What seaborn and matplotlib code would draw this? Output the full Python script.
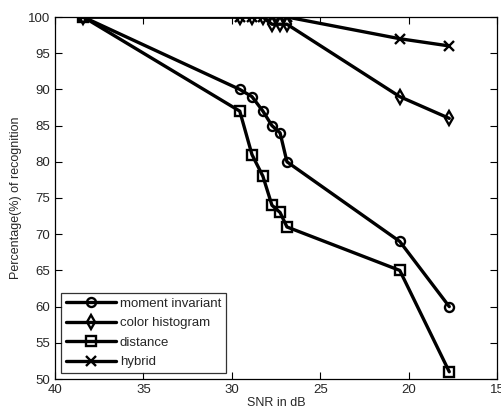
import matplotlib
matplotlib.use("Agg")
import matplotlib.pyplot as plt
import seaborn as sns
import pandas as pd

snr_db = [38.4, 29.55, 28.86, 28.24, 27.73, 27.27, 26.88, 20.5, 17.7]
moment_invariant = [100, 90, 89, 87, 85, 84, 80, 69, 60]
color_histogram = [100, 100, 100, 100, 99, 99, 99, 89, 86]
distance = [100, 87, 81, 78, 74, 73, 71, 65, 51]
hybrid = [100, 100, 100, 100, 100, 100, 100, 97, 96]

series_names = ["moment invariant", "color histogram", "distance", "hybrid"]
series_values = [moment_invariant, color_histogram, distance, hybrid]
marker_list = ["o", "d", "s", "x"]

sns.set_style("white")
plt.rcParams["font.family"] = ["Liberation Sans", "DejaVu Sans"]

rows = []
for name, vals in zip(series_names, series_values):
    for x, y in zip(snr_db, vals):
        rows.append({"SNR": x, "pct": y, "method": name})
df = pd.DataFrame(rows)

fig = plt.figure(figsize=(5.01, 4.15), dpi=100)
ax = fig.add_axes([55 / 501, 1 - 379 / 415, (497 - 55) / 501, (379 - 17) / 415])

for name, mk in zip(series_names, marker_list):
    sub = df[df["method"] == name]
    sns.lineplot(data=sub, x="SNR", y="pct", ax=ax, color="black", linewidth=2.4,
                 marker=mk, markersize=6.5 if mk != "d" else 7.5,
                 markerfacecolor="none", markeredgecolor="black", markeredgewidth=1.7,
                 label=name, sort=False)

ax.set_xlim(40, 15)
ax.set_ylim(50, 100)
ax.set_xticks([40, 35, 30, 25, 20, 15])
ax.set_yticks(list(range(50, 101, 5)))
ax.set_xlabel("SNR in dB", fontsize=9, labelpad=1)
ax.set_ylabel("Percentage(%) of recognition", fontsize=9, labelpad=4)
ax.tick_params(direction="in", length=5, width=0.8, labelsize=9.5,
               top=True, right=True, bottom=True, left=True, color="black")
for s in ax.spines.values():
    s.set_color("black")
    s.set_linewidth(0.9)
    s.set_visible(True)

leg = ax.legend(loc="lower left", fontsize=9.5, frameon=True, fancybox=False,
                edgecolor="black", handlelength=3.8, borderpad=0.35,
                labelspacing=0.55, handletextpad=0.3, borderaxespad=0.45)
leg.get_frame().set_linewidth(0.9)

fig.savefig("out.png", dpi=100)
